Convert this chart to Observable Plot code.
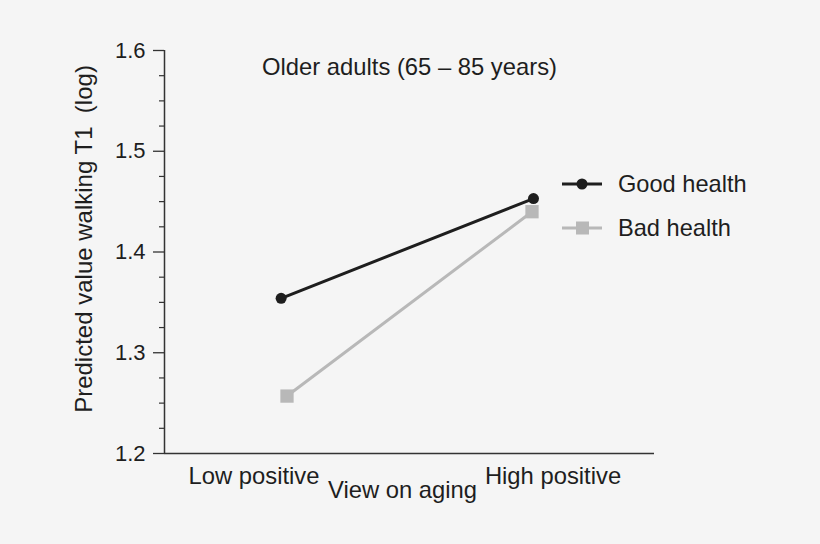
<!DOCTYPE html>
<html>
<head>
<meta charset="utf-8">
<script src="https://cdn.jsdelivr.net/npm/d3@7"></script>
<script src="https://cdn.jsdelivr.net/npm/@observablehq/plot@0.6"></script>
<style>
  html, body { margin: 0; padding: 0; background: #f5f5f5; }
  #wrap { position: relative; width: 820px; height: 544px; background: #f5f5f5; }
  #legend { position: absolute; left: 0; top: 0; pointer-events: none; }
</style>
</head>
<body>
<div id="wrap"></div>
<script>
// ---- data ----
const categories = ["Low positive", "High positive"];
const categoryIndex = [0, 1];
const seriesNames = ["Good health", "Bad health"];
const goodX = [-0.024, 1.006];
const goodY = [1.354, 1.453];
const badX = [0, 1];
const badY = [1.257, 1.440];
const majorTicks = [1.2, 1.3, 1.4, 1.5, 1.6];
const minorTicks = [1.225, 1.25, 1.275, 1.325, 1.35, 1.375, 1.425, 1.45, 1.475, 1.525, 1.55, 1.575];
const titleText = "Older adults (65 – 85 years)";
const yTitle = "Predicted value walking T1  (log)";
const xTitle = "View on aging";

const good = goodX.map((x, i) => ({x, y: goodY[i], s: seriesNames[0]}));
const bad = badX.map((x, i) => ({x, y: badY[i], s: seriesNames[1]}));

const FONT = "'Liberation Sans', Arial, Helvetica, sans-serif";
const INK = "#1e1e1e";
const GREY = "#b8b8b8";

const chart = Plot.plot({
  width: 820,
  height: 544,
  marginLeft: 164,
  marginRight: 166,
  marginTop: 50,
  marginBottom: 91,
  style: {background: "#f5f5f5", fontFamily: FONT, color: INK, overflow: "visible"},
  x: {domain: [-0.5, 1.5], axis: null},
  y: {domain: [1.2, 1.6], axis: null},
  marks: [
    // y axis line
    Plot.ruleX([-0.5], {y1: 1.2, y2: 1.6, stroke: "#333", strokeWidth: 1.5}),
    // x axis line
    Plot.ruleY([1.2], {x1: -0.5, x2: 1.5, stroke: "#333", strokeWidth: 1.5}),
    // major ticks with labels
    Plot.axisY(majorTicks, {
      label: null, tickSize: 11, tickPadding: 8, tickFormat: d3.format(".1f"),
      fontSize: 22, stroke: "#333", strokeWidth: 1.3, fill: INK
    }),
    // minor ticks
    Plot.axisY(minorTicks, {label: null, tickSize: 5, text: null, stroke: "#333", strokeWidth: 1.2}),
    // y title
    Plot.text([yTitle], {
      frameAnchor: "left", textAnchor: "middle", rotate: -90, dx: -80, dy: -13,
      fontSize: 24, fill: INK
    }),
    // chart title
    Plot.text([titleText], {frameAnchor: "top", dy: 8, fontSize: 23.8, fill: INK}),
    // x category labels
    Plot.text([categories[0]], {x: categoryIndex[0], frameAnchor: "bottom", dx: -33, dy: 30, fontSize: 23.8, fill: INK}),
    Plot.text([categories[1]], {x: categoryIndex[1], frameAnchor: "bottom", dx: 21, dy: 30, fontSize: 23.8, fill: INK}),
    // x title
    Plot.text([xTitle], {frameAnchor: "bottom", dx: -7, dy: 44, fontSize: 23.8, fill: INK}),
    // series
    Plot.line(bad, {x: "x", y: "y", stroke: GREY, strokeWidth: 3}),
    Plot.dot(bad, {x: "x", y: "y", symbol: "square", r: 7.5, fill: GREY, stroke: "none"}),
    Plot.line(good, {x: "x", y: "y", stroke: INK, strokeWidth: 3}),
    Plot.dot(good, {x: "x", y: "y", symbol: "circle", r: 5.5, fill: INK, stroke: "none"})
  ]
});

const wrap = document.getElementById("wrap");
wrap.appendChild(chart);

// legend overlay
const ns = "http://www.w3.org/2000/svg";
const leg = document.createElementNS(ns, "svg");
leg.setAttribute("id", "legend");
leg.setAttribute("width", 820);
leg.setAttribute("height", 544);
const items = [
  {name: seriesNames[0], color: INK, sym: "circle", y: 184},
  {name: seriesNames[1], color: GREY, sym: "square", y: 228}
];
items.forEach(it => {
  const l = document.createElementNS(ns, "line");
  l.setAttribute("x1", 562); l.setAttribute("x2", 602);
  l.setAttribute("y1", it.y); l.setAttribute("y2", it.y);
  l.setAttribute("stroke", it.color); l.setAttribute("stroke-width", 3);
  leg.appendChild(l);
  if (it.sym === "circle") {
    const c = document.createElementNS(ns, "circle");
    c.setAttribute("cx", 582); c.setAttribute("cy", it.y); c.setAttribute("r", 5.5);
    c.setAttribute("fill", it.color);
    leg.appendChild(c);
  } else {
    const r = document.createElementNS(ns, "rect");
    r.setAttribute("x", 576); r.setAttribute("y", it.y - 6.5);
    r.setAttribute("width", 13); r.setAttribute("height", 13);
    r.setAttribute("fill", it.color);
    leg.appendChild(r);
  }
  const t = document.createElementNS(ns, "text");
  t.setAttribute("x", 618); t.setAttribute("y", it.y);
  t.setAttribute("dy", "0.35em");
  t.setAttribute("font-size", 23.6);
  t.setAttribute("font-family", FONT);
  t.setAttribute("fill", INK);
  t.textContent = it.name;
  leg.appendChild(t);
});
wrap.appendChild(leg);
</script>
</body>
</html>
